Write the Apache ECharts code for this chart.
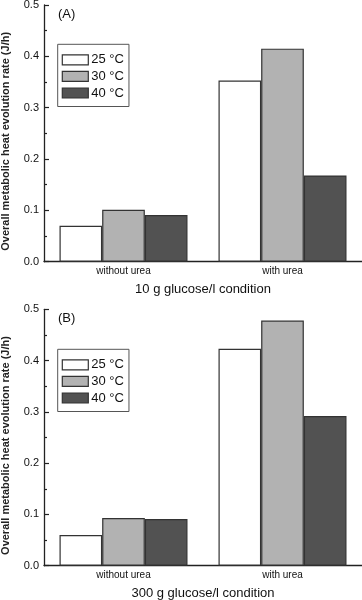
<!DOCTYPE html>
<html><head><meta charset="utf-8">
<script src="https://cdn.jsdelivr.net/npm/echarts@6/dist/echarts.min.js"></script>
<style>html,body{margin:0;padding:0;background:#fff}#c{width:362px;height:600px}</style>
</head><body><div id="c"></div>
<script>
const categories = ['without urea', 'with urea'];
const temps = ['25 °C', '30 °C', '40 °C'];
const panelA_25 = [0.070, 0.353];
const panelA_30 = [0.101, 0.415];
const panelA_40 = [0.091, 0.168];
const panelB_25 = [0.060, 0.423];
const panelB_30 = [0.093, 0.478];
const panelB_40 = [0.091, 0.292];
const yTicks = [0, 0.1, 0.2, 0.3, 0.4, 0.5];
const xTitles = ['10 g glucose/l condition', '300 g glucose/l condition'];
const panelLabels = ['(A)', '(B)'];
const yTitle = 'Overall metabolic heat evolution rate (J/h)';

const colors = ['#ffffff', '#b2b2b2', '#525252'];
const FONT = 'Liberation Sans, Arial, sans-serif';
const chart = echarts.init(document.getElementById('c'));

const grids = [
  {left: 44, right: 0, top: 5, height: 256.7, outerBoundsMode: 'none', containLabel: false},
  {left: 44, right: 0, top: 309.3, height: 256.4, outerBoundsMode: 'none', containLabel: false}
];
function xAxis(i) {
  return {
    type: 'category', gridIndex: i, data: categories,
    name: xTitles[i], nameLocation: 'middle', nameGap: 21,
    nameTextStyle: {fontFamily: FONT, fontSize: 13, color: '#111'},
    axisLine: {lineStyle: {color: '#222', width: 1.3}},
    axisTick: {show: false},
    axisLabel: {fontFamily: FONT, fontSize: 10, color: '#111', margin: 5}
  };
}
function yAxis(i) {
  return {
    type: 'value', gridIndex: i, min: yTicks[0], max: yTicks[yTicks.length - 1], interval: 0.1,
    name: yTitle, nameLocation: 'middle', nameGap: 33, nameRotate: 90,
    nameTextStyle: {fontFamily: FONT, fontSize: 11, fontWeight: 'bold', color: '#222', padding: [0, 16, 0, 0]},
    axisLine: {show: true, lineStyle: {color: '#222', width: 1.3}},
    axisTick: {show: true, inside: true, length: 5, lineStyle: {color: '#222', width: 1.2}},
    minorTick: {show: true, splitNumber: 2, length: 3, lineStyle: {color: '#222', width: 1.2}},
    splitLine: {show: false},
    axisLabel: {fontFamily: FONT, fontSize: 11, color: '#111', margin: 5,
      formatter: v => v.toFixed(1)}
  };
}
function bar(name, data, idx, gi) {
  return {
    type: 'bar', name: name, data: data, xAxisIndex: gi, yAxisIndex: gi,
    barGap: '0%', barCategoryGap: '19.5%',
    itemStyle: {color: colors[idx], borderColor: '#333', borderWidth: 1.2},
    emphasis: {disabled: true}
  };
}
function legend(i, top) {
  return {
    left: 57.7, top: top, orient: 'vertical',
    data: temps,
    icon: 'rect', itemWidth: 26, itemHeight: 10, itemGap: 3.6,
    borderColor: '#555', borderWidth: 1, borderRadius: 0,
    padding: [9, 5, 7, 4],
    textStyle: {fontFamily: FONT, fontSize: 13, color: '#111', lineHeight: 13, padding: [0, 0, 0, -2]},
    itemStyle: {borderColor: '#333', borderWidth: 1.2},
    selectedMode: false
  };
}
chart.setOption({
  animation: false,
  grid: grids,
  xAxis: [xAxis(0), xAxis(1)],
  yAxis: [yAxis(0), yAxis(1)],
  title: [
    {text: panelLabels[0], left: 58, top: 8, textStyle: {fontFamily: FONT, fontSize: 13, fontWeight: 'normal', color: '#111'}, padding: 0},
    {text: panelLabels[1], left: 58, top: 312, textStyle: {fontFamily: FONT, fontSize: 13, fontWeight: 'normal', color: '#111'}, padding: 0}
  ],
  legend: [legend(0, 44.3), legend(1, 349.3)],
  series: [
    bar(temps[0], panelA_25, 0, 0),
    bar(temps[1], panelA_30, 1, 0),
    bar(temps[2], panelA_40, 2, 0),
    bar(temps[0], panelB_25, 0, 1),
    bar(temps[1], panelB_30, 1, 1),
    bar(temps[2], panelB_40, 2, 1)
  ]
});
</script></body></html>
